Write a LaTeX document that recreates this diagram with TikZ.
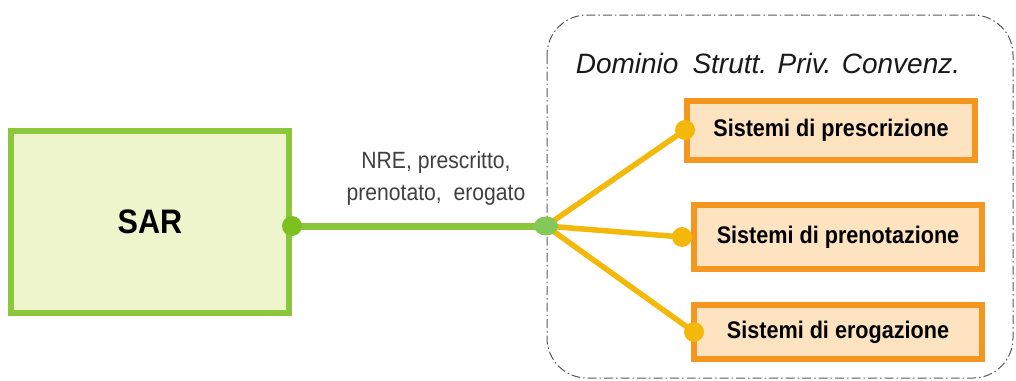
\documentclass[tikz,border=0pt]{standalone}
\usepackage{fontspec}
\setmainfont{Liberation Sans}
\newfontfamily\narrowfont[FakeStretch=0.9]{Liberation Sans}
\usetikzlibrary{positioning,calc,shapes.geometric}
\definecolor{sargreen}{HTML}{8CC63A}
\definecolor{sarfill}{HTML}{EEF4CB}
\definecolor{portgreen}{HTML}{7CC11E}
\definecolor{hubgreen}{HTML}{84C85A}
\definecolor{sysorange}{HTML}{F5961E}
\definecolor{sysfill}{HTML}{FDE3BF}
\definecolor{linkgold}{HTML}{F3B80A}
\tikzset{
	flow diagram/.style={
		x=1pt,y=-1pt,
		every node/.style={inner sep=0pt}
	},
	sar block/.style={
		rectangle,
		draw=sargreen,
		fill=sarfill,
		line width=6pt,
		minimum width=278pt,
		minimum height=182pt,
		font=\narrowfont\bfseries\fontsize{34}{34}\selectfont
	},
	system block/.style={
		rectangle,
		draw=sysorange,
		fill=sysfill,
		line width=6pt,
		minimum width=288pt,
		font=\narrowfont\bfseries\fontsize{24}{24}\selectfont
	},
	domain frame/.style={
		rectangle,
		draw=black!65,
		line width=1pt,
		rounded corners=40pt,
		dash pattern=on 9pt off 3pt on 1.5pt off 3pt
	},
	green link/.style={line width=7pt,draw=sargreen},
	gold link/.style={line width=5.5pt,draw=linkgold},
	green port/.style={circle,fill=portgreen,minimum size=20pt},
	gold port/.style={circle,fill=linkgold,minimum size=20pt},
	hub/.style={ellipse,fill=hubgreen,minimum width=24pt,minimum height=19pt}
}
\begin{document}
\begin{tikzpicture}[flow diagram]
	\useasboundingbox (0,0) rectangle (1016,380);
	% container of the private structures
	\draw[domain frame] (547,15) rectangle (1013,378);
	\node[font=\itshape\fontsize{28}{28}\selectfont,text=black!90] (title) at (768,63) {Dominio\enspace Strutt. Priv. Convenz.};
	% blocks
	\node[sar block] (sar) at (150,222) {SAR};
	\node[system block,minimum height=59pt] (presc) at (831,130) {Sistemi di prescrizione};
	\node[system block,minimum height=64pt] (preno) at (838,237) {Sistemi di prenotazione};
	\node[system block,minimum height=54pt] (erog) at (838,332) {Sistemi di erogazione};
	% connectors
	\coordinate (hubpos) at (546,226);
	\coordinate (sarport) at (sar.east |- hubpos);
	\draw[green link] (sarport) -- (hubpos);
	\foreach \sys/\dx in {presc/1,preno/-9,erog/3}{
		\draw[gold link] (hubpos) -- ($(\sys.west)+(\dx,0)$);
		\node[gold port] at ($(\sys.west)+(\dx,0)$) {};
	}
	\node[green port] (sardot) at (sarport) {};
	\node[hub] (hubdot) at (hubpos) {};
	\node[align=center,font=\narrowfont\fontsize{23.5}{32}\selectfont,text=black!75] (flows) at (436,178) {NRE, prescritto,\\prenotato,\enspace erogato};
\end{tikzpicture}
\end{document}
